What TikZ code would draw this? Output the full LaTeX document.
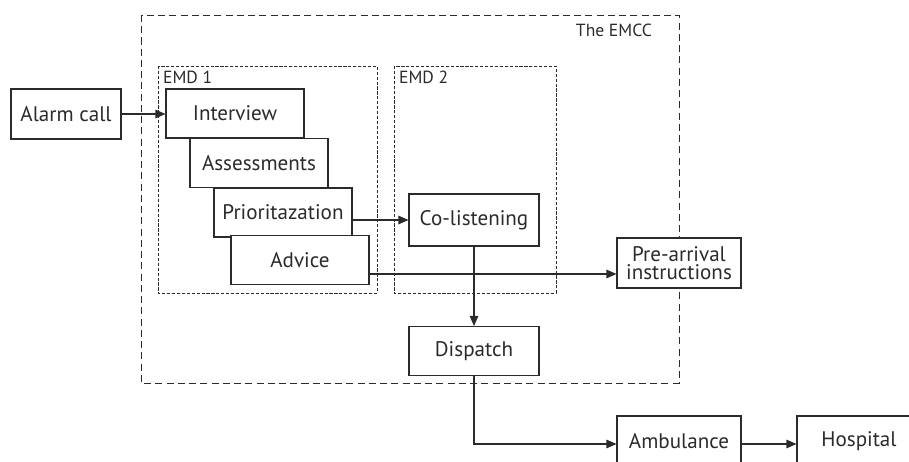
\documentclass[tikz,border=0pt]{standalone}
\usepackage{fontspec}
\setmainfont{PT Sans}
\usetikzlibrary{arrows.meta, positioning, calc}

\definecolor{ink}{HTML}{2B2B2B}

\begin{document}
\begin{tikzpicture}[
    x=0.02cm, y=-0.02cm,
    block/.style={rectangle, draw=ink, fill=white, text=ink, line width=0.6pt,
                  minimum width=2.76cm, minimum height=0.98cm, inner sep=2pt,
                  align=center, font=\fontsize{12}{11.5}\selectfont},
    start/.style={block, line width=1.5pt, minimum width=2.2cm, minimum height=1cm},
    region/.style={draw=ink, line width=0.5pt, dash pattern=on 4pt off 2.4pt},
    team/.style={draw=ink, line width=0.5pt, dash pattern=on 1.8pt off 1pt},
    tag/.style={text=ink, font=\fontsize{10}{11}\selectfont, inner sep=1pt},
    arrow/.style={-{Triangle[length=0.2cm, width=0.17cm]}, draw=ink, line width=0.6pt},
]
    \useasboundingbox (0,0) rectangle (909,462);
    \clip (0,0) rectangle (909,462);

    % Dashed regions
    \draw[region] (141,15) rectangle (679,383);
    \draw[team] (158,66) rectangle (377,293);
    \draw[team] (394,66) rectangle (556,293);
    \node[tag, anchor=east] (emcc) at (654,30) {The EMCC};
    \node[tag, anchor=north west] (emd1) at (161,69) {EMD 1};
    \node[tag, anchor=north west] (emd2) at (397,69) {EMD 2};

    % Call handling steps
    \node[start] (alarm) at (66,114) {Alarm call};
    \node[block] (interview) at (235,113.5) {Interview};
    \node[block] (assess) at (259,163) {Assessments};
    \node[block] (prior) at (283,212.5) {Prioritazation};
    \node[block] (advice) at (300,260) {Advice};

    \node[block, minimum width=2.6cm, minimum height=1.04cm] (colisten) at (474,220) {Co-listening};
    \node[block, minimum width=2.6cm] (dispatch) at (474,351) {Dispatch};
    \node[block, minimum width=2.48cm, minimum height=1cm] (prearr) at (679,263) {Pre-arrival\\[-1pt]instructions};
    \node[block, minimum width=2.48cm, minimum height=1cm] (ambulance) at (679,441) {Ambulance};
    \node[block, minimum width=2.48cm, minimum height=1cm] (hospital) at (859,441) {Hospital};

    \draw[arrow] (alarm.east) -- (alarm.east -| interview.west);
    \draw[arrow] (prior.east |- colisten.west) -- (colisten.west);
    \draw[arrow] ([yshift=-0.28cm]advice.east) -- ([yshift=-0.28cm]advice.east -| prearr.west);
    \draw[arrow] (colisten.south) -- (dispatch.north);
    \draw[arrow] (dispatch.south) |- ([yshift=-0.06cm]ambulance.west);
    \draw[arrow] ([yshift=-0.06cm]ambulance.east) -- ([yshift=-0.06cm]hospital.west);
\end{tikzpicture}
\end{document}
